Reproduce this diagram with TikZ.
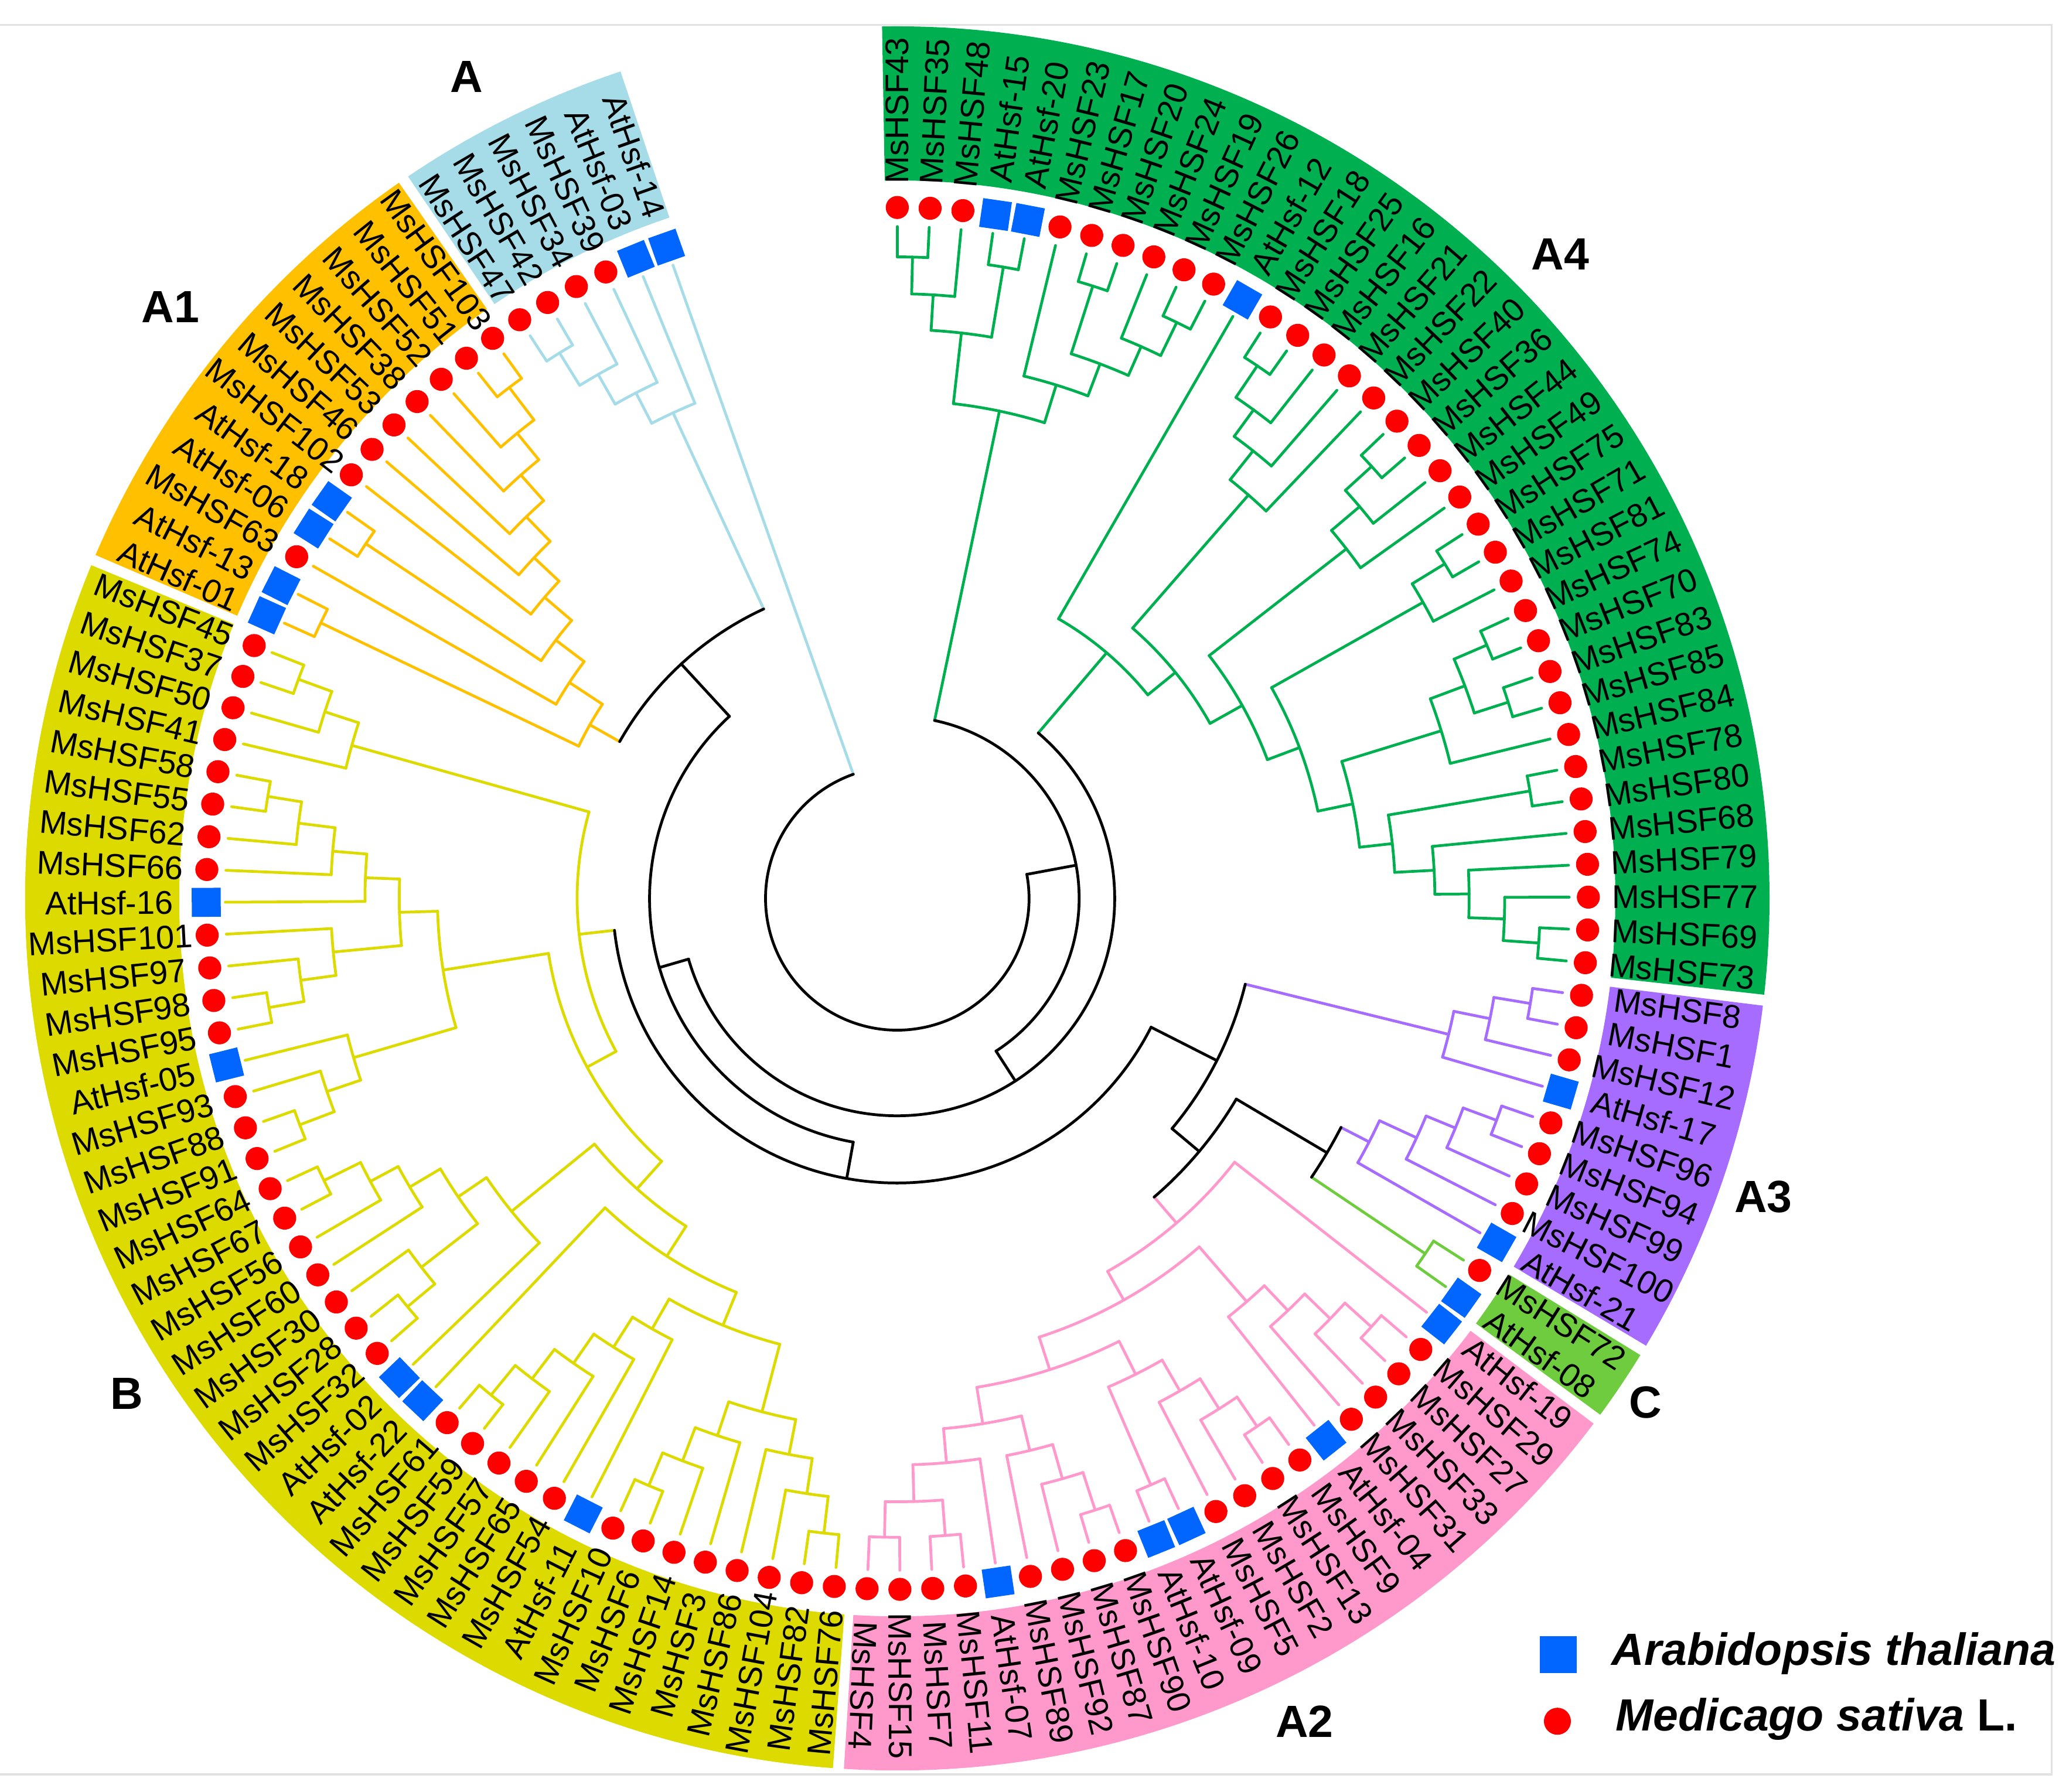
\documentclass[tikz,border=0pt]{standalone}
\usepackage{fontspec}
\setmainfont{Liberation Sans}
\definecolor{cA4}{HTML}{00B050}
\definecolor{cA3}{HTML}{A66BFF}
\definecolor{cC}{HTML}{70CC3F}
\definecolor{cA2}{HTML}{FF99CC}
\definecolor{cB}{HTML}{DDDA00}
\definecolor{cA1}{HTML}{FFC000}
\definecolor{cA}{HTML}{A6DCE8}
\definecolor{mkblue}{HTML}{0066FF}
\definecolor{mkred}{HTML}{FF0000}
\definecolor{framegray}{HTML}{E2E2E2}
\tikzset{
 br/.style={line width=1.2pt, line cap=round, line join=round},
 sqm/.style={rectangle, fill=mkblue, minimum size=0.44cm, inner sep=0pt, draw=none},
 cim/.style={circle, fill=mkred, minimum size=0.35cm, inner sep=0pt, draw=none},
 lab/.style={inner sep=0pt, font=\fontsize{14.2}{14.2}\selectfont, text=black},
 cladelab/.style={font=\bfseries\fontsize{19.5}{19.5}\selectfont, inner sep=0pt},
 legtxt/.style={font=\bfseries\itshape\fontsize{19.5}{19.5}\selectfont, inner sep=0pt, anchor=west},
}
% clade: name, radius, children, colour
\newcommand\cld[4]{%
  \gdef\zF{}%
  \foreach \kid in {#3}{%
    \edef\zA{\csname ang\kid\endcsname}%
    \edef\zR{\csname rad\kid\endcsname}%
    \edef\zC{\csname col\kid\endcsname}%
    \draw[br,color=\zC] (\zA:#2) -- (\zA:\zR);
    \ifx\zF\empty\xdef\zF{\zA}\fi
    \xdef\zL{\zA}%
  }%
  \draw[br,color=#4] (\zF:#2) arc[start angle=\zF,end angle=\zL,radius=#2];
  \pgfmathsetmacro\zM{(\zF+\zL)/2}%
  \expandafter\xdef\csname ang#1\endcsname{\zM}%
  \expandafter\xdef\csname rad#1\endcsname{#2}%
  \expandafter\xdef\csname col#1\endcsname{#4}%
}
\newcommand\band[3]{\fill[#3] (#1:545) arc[start angle=#1,end angle=#2,radius=545] -- (#2:662) arc[start angle=#2,end angle=#1,radius=662] -- cycle;}
\begin{document}
\begin{tikzpicture}[x=0.02cm,y=0.02cm]
\useasboundingbox (-681,-678) rectangle (887,682);
% frame
\draw[framegray,line width=0.8pt] (-681,663) -- (876,663) -- (876,-665) -- (-681,-665);
% bands
\band{91}{-6.34}{cA4}
\band{-7.064}{-30.856}{cA3}
\band{-31.58}{-36.304}{cC}
\band{-37.028}{-93.508}{cA2}
\band{-94.232}{-202.468}{cB}
\band{-203.192}{-235.156}{cA1}
\band{-235.88}{-251.5}{cA}
% leaves
\foreach \ix/\lbl/\mk/\kol in {
0/MsHSF43/cim/cA4,1/MsHSF35/cim/cA4,2/MsHSF48/cim/cA4,3/AtHsf-15/sqm/cA4,4/AtHsf-20/sqm/cA4,
5/MsHSF23/cim/cA4,6/MsHSF17/cim/cA4,7/MsHSF20/cim/cA4,8/MsHSF24/cim/cA4,9/MsHSF19/cim/cA4,
10/MsHSF26/cim/cA4,11/AtHsf-12/sqm/cA4,12/MsHSF18/cim/cA4,13/MsHSF25/cim/cA4,14/MsHSF16/cim/cA4,
15/MsHSF21/cim/cA4,16/MsHSF22/cim/cA4,17/MsHSF40/cim/cA4,18/MsHSF36/cim/cA4,19/MsHSF44/cim/cA4,
20/MsHSF49/cim/cA4,21/MsHSF75/cim/cA4,22/MsHSF71/cim/cA4,23/MsHSF81/cim/cA4,24/MsHSF74/cim/cA4,
25/MsHSF70/cim/cA4,26/MsHSF83/cim/cA4,27/MsHSF85/cim/cA4,28/MsHSF84/cim/cA4,29/MsHSF78/cim/cA4,
30/MsHSF80/cim/cA4,31/MsHSF68/cim/cA4,32/MsHSF79/cim/cA4,33/MsHSF77/cim/cA4,34/MsHSF69/cim/cA4,
35/MsHSF73/cim/cA4,
36/MsHSF8/cim/cA3,37/MsHSF1/cim/cA3,38/MsHSF12/cim/cA3,39/AtHsf-17/sqm/cA3,40/MsHSF96/cim/cA3,
41/MsHSF94/cim/cA3,42/MsHSF99/cim/cA3,43/MsHSF100/cim/cA3,44/AtHsf-21/sqm/cA3,
45/MsHSF72/cim/cC,46/AtHsf-08/sqm/cC,
47/AtHsf-19/sqm/cA2,48/MsHSF29/cim/cA2,49/MsHSF27/cim/cA2,50/MsHSF33/cim/cA2,51/MsHSF31/cim/cA2,
52/AtHsf-04/sqm/cA2,53/MsHSF9/cim/cA2,54/MsHSF13/cim/cA2,55/MsHSF2/cim/cA2,56/MsHSF5/cim/cA2,
57/AtHsf-09/sqm/cA2,58/AtHsf-10/sqm/cA2,59/MsHSF90/cim/cA2,60/MsHSF87/cim/cA2,61/MsHSF92/cim/cA2,
62/MsHSF89/cim/cA2,63/AtHsf-07/sqm/cA2,64/MsHSF11/cim/cA2,65/MsHSF7/cim/cA2,66/MsHSF15/cim/cA2,
67/MsHSF4/cim/cA2,
68/MsHSF76/cim/cB,69/MsHSF82/cim/cB,70/MsHSF104/cim/cB,71/MsHSF86/cim/cB,72/MsHSF3/cim/cB,
73/MsHSF14/cim/cB,74/MsHSF6/cim/cB,75/MsHSF10/cim/cB,76/AtHsf-11/sqm/cB,77/MsHSF54/cim/cB,
78/MsHSF65/cim/cB,79/MsHSF57/cim/cB,80/MsHSF59/cim/cB,81/MsHSF61/cim/cB,82/AtHsf-22/sqm/cB,
83/AtHsf-02/sqm/cB,84/MsHSF32/cim/cB,85/MsHSF28/cim/cB,86/MsHSF30/cim/cB,87/MsHSF60/cim/cB,
88/MsHSF56/cim/cB,89/MsHSF67/cim/cB,90/MsHSF64/cim/cB,91/MsHSF91/cim/cB,92/MsHSF88/cim/cB,
93/MsHSF93/cim/cB,94/AtHsf-05/sqm/cB,95/MsHSF95/cim/cB,96/MsHSF98/cim/cB,97/MsHSF97/cim/cB,
98/MsHSF101/cim/cB,99/AtHsf-16/sqm/cB,100/MsHSF66/cim/cB,101/MsHSF62/cim/cB,102/MsHSF55/cim/cB,
103/MsHSF58/cim/cB,104/MsHSF41/cim/cB,105/MsHSF50/cim/cB,106/MsHSF37/cim/cB,107/MsHSF45/cim/cB,
108/AtHsf-01/sqm/cA1,109/AtHsf-13/sqm/cA1,110/MsHSF63/cim/cA1,111/AtHsf-06/sqm/cA1,112/AtHsf-18/sqm/cA1,
113/MsHSF102/cim/cA1,114/MsHSF46/cim/cA1,115/MsHSF53/cim/cA1,116/MsHSF38/cim/cA1,117/MsHSF52/cim/cA1,
118/MsHSF51/cim/cA1,119/MsHSF103/cim/cA1,
120/MsHSF47/cim/cA,121/MsHSF42/cim/cA,122/MsHSF34/cim/cA,123/MsHSF39/cim/cA,124/AtHsf-03/sqm/cA,
125/AtHsf-14/sqm/cA}{%
  \pgfmathsetmacro\ang{90-2.724*\ix}%
  \expandafter\xdef\csname ang\ix\endcsname{\ang}%
  \expandafter\xdef\csname rad\ix\endcsname{510}%
  \expandafter\xdef\csname col\ix\endcsname{\kol}%
  \pgfmathsetmacro\rot{\ang<-93.9 ? \ang+180 : \ang}%
  \node[\mk,rotate=\ang] (m\ix) at (\ang:524.5) {};
  \node[lab,rotate=\rot] (t\ix) at (\ang:598) {\lbl};
}
% ---- A4
\cld{na01}{487}{0,1}{cA4}
\cld{na012}{459}{na01,2}{cA4}
\cld{na34}{486}{3,4}{cA4}
\cld{naA}{432}{na012,na34}{cA4}
\cld{na67}{488}{6,7}{cA4}
\cld{na910}{486}{9,10}{cA4}
\cld{na8t10}{458}{8,na910}{cA4}
\cld{na6t10}{434}{na67,na8t10}{cA4}
\cld{na5t10}{408}{5,na6t10}{cA4}
\cld{naB}{378}{naA,na5t10}{cA4}
\cld{ny1}{488}{12,13}{cA4}
\cld{ny2}{459}{ny1,14}{cA4}
\cld{ny3}{434}{ny2,15}{cA4}
\cld{nyY}{406}{ny3,16}{cA4}
\cld{nw1}{487}{17,18}{cA4}
\cld{nw2}{460}{nw1,19}{cA4}
\cld{nwW}{432}{nw2,20}{cA4}
\cld{nv1}{487}{21,22}{cA4}
\cld{nv2}{458}{nv1,23}{cA4}
\cld{nt1}{487}{24,25}{cA4}
\cld{nt2}{487}{26,27}{cA4}
\cld{nt3}{460}{nt1,nt2}{cA4}
\cld{ntT}{432}{nt3,28}{cA4}
\cld{ns1}{487}{29,30}{cA4}
\cld{nq1}{488}{34,35}{cA4}
\cld{nq2}{461}{33,nq1}{cA4}
\cld{nqQ}{434}{32,nq2}{cA4}
\cld{nrR}{408}{31,nqQ}{cA4}
\cld{nsS}{378}{ns1,nrR}{cA4}
\cld{nuU}{353}{ntT,nsS}{cA4}
\cld{nvV}{326}{nv2,nuU}{cA4}
\cld{nzZ}{300}{nwW,nvV}{cA4}
\cld{nxX}{272}{nyY,nzZ}{cA4}
\cld{na4b}{245}{11,nxX}{cA4}
% ---- A3
\cld{np1}{487}{36,37}{cA3}
\cld{np2}{459}{np1,38}{cA3}
\cld{na3a}{431}{np2,39}{cA3}
\cld{np3}{485}{40,41}{cA3}
\cld{np4}{458}{np3,42}{cA3}
\cld{np5}{434}{np4,43}{cA3}
\cld{na3b}{403}{np5,44}{cA3}
% ---- C
\cld{ncc}{483}{45,46}{cC}
% ---- A2
\cld{nk1}{485}{48,49}{cA2}
\cld{nk2}{458}{nk1,50}{cA2}
\cld{nk3}{431}{nk2,51}{cA2}
\cld{na2x}{405}{nk3,52}{cA2}
\cld{nk4}{485}{53,54}{cA2}
\cld{nk5}{458}{nk4,55}{cA2}
\cld{nk6}{431}{nk5,56}{cA2}
\cld{nk7}{485}{57,58}{cA2}
\cld{nk8}{404}{nk6,nk7}{cA2}
\cld{nk9}{488}{59,60}{cA2}
\cld{nk10}{458}{nk9,61}{cA2}
\cld{nk11}{431}{nk10,62}{cA2}
\cld{nk12}{485}{64,65}{cA2}
\cld{nk13}{485}{66,67}{cA2}
\cld{nk14}{458}{nk12,nk13}{cA2}
\cld{nk15}{430}{63,nk14}{cA2}
\cld{nk16}{404}{nk11,nk15}{cA2}
\cld{na2y}{376}{nk8,nk16}{cA2}
\cld{na2r}{350}{na2x,na2y}{cA2}
\cld{na2}{325}{47,na2r}{cA2}
\cld{nI}{379}{na3b,ncc}{black}
\cld{nH}{299}{nI,na2}{black}
\cld{nG}{272}{na3a,nH}{black}
% ---- B
\cld{nb1}{485}{68,69}{cB}
\cld{nb2}{457}{nb1,70}{cB}
\cld{nb3}{430}{nb2,71}{cB}
\cld{nb4}{484}{74,75}{cB}
\cld{nb5}{457}{73,nb4}{cB}
\cld{nb6}{430}{72,nb5}{cB}
\cld{nb7}{403}{nb3,nb6}{cB}
\cld{nb8}{487}{80,81}{cB}
\cld{nb9}{458}{79,nb8}{cB}
\cld{nb10}{430}{78,nb9}{cB}
\cld{nb11}{403}{77,nb10}{cB}
\cld{nb12}{376}{76,nb11}{cB}
\cld{nb13}{350}{nb7,nb12}{cB}
\cld{nb1a2}{323}{nb13,82}{cB}
\cld{nb14}{484}{84,85}{cB}
\cld{nb15}{457}{nb14,86}{cB}
\cld{nb16}{485}{89,90}{cB}
\cld{nb17}{454}{88,nb16}{cB}
\cld{nb18}{430}{87,nb17}{cB}
\cld{nb19}{403}{nb15,nb18}{cB}
\cld{nb1a1}{377}{83,nb19}{cB}
\cld{nb1a}{296}{nb1a2,nb1a1}{cB}
\cld{nb20}{485}{91,92}{cB}
\cld{nb21}{457}{nb20,93}{cB}
\cld{nb1b2}{430}{nb21,94}{cB}
\cld{nb22}{484}{95,96}{cB}
\cld{nb23}{457}{nb22,97}{cB}
\cld{nb24}{430}{nb23,98}{cB}
\cld{nb25}{484}{102,103}{cB}
\cld{nb26}{458}{101,nb25}{cB}
\cld{nb27}{430}{100,nb26}{cB}
\cld{nb28}{404}{99,nb27}{cB}
\cld{nb1b1}{378}{nb24,nb28}{cB}
\cld{nb1b}{349}{nb1b2,nb1b1}{cB}
\cld{nbB1}{268}{nb1a,nb1b}{cB}
\cld{nb29}{484}{106,107}{cB}
\cld{nb30}{457}{105,nb29}{cB}
\cld{nb2x}{430}{104,nb30}{cB}
\cld{nbR}{243}{nbB1,nb2x}{cB}
\cld{nF}{216}{nbR,nG}{black}
% ---- A1
\cld{no1}{485}{108,109}{cA1}
\cld{no2}{487}{118,119}{cA1}
\cld{no3}{456}{117,no2}{cA1}
\cld{no4}{430}{116,no3}{cA1}
\cld{no5}{404}{115,no4}{cA1}
\cld{no6}{378}{114,no5}{cA1}
\cld{no7}{352}{113,no6}{cA1}
\cld{no8}{485}{111,112}{cA1}
\cld{no9}{325}{no8,no7}{cA1}
\cld{no10}{298}{110,no9}{cA1}
\cld{na1}{268}{no1,no10}{cA1}
% ---- A
\cld{nl1}{487}{120,121}{cA}
\cld{nl2}{458}{nl1,122}{cA}
\cld{nl3}{432}{nl2,123}{cA}
\cld{na5}{406}{nl3,124}{cA}
% ---- backbone
\cld{nE}{242}{na1,na5}{black}
\cld{nD}{188}{nF,nE}{black}
\cld{nC}{165}{na4b,nD}{black}
\cld{nR1}{138}{naB,nC}{black}
\cld{nroot}{100}{nR1,125}{black}
% clade labels
\node[cladelab] (labA)  at (-327,623.7) {A};
\node[cladelab] (labA1) at (-551.5,449.2) {A1};
\node[cladelab] (labA4) at (503.2,489) {A4};
\node[cladelab] (labA3) at (657.2,-226.5) {A3};
\node[cladelab] (labC)  at (568,-382.4) {C};
\node[cladelab] (labA2) at (309,-624.7) {A2};
\node[cladelab] (labB)  at (-585,-376) {B};
% legend
\node[rectangle,fill=mkblue,minimum size=0.56cm,inner sep=0pt] (legsq) at (501.6,-574) {};
\node[circle,fill=mkred,minimum size=0.41cm,inner sep=0pt] (legci) at (501,-624.6) {};
\node[legtxt] (legt1) at (542,-573) {Arabidopsis thaliana};
\node[legtxt] (legt2) at (545,-623) {Medicago sativa {\upshape L.}};
\end{tikzpicture}
\end{document}
